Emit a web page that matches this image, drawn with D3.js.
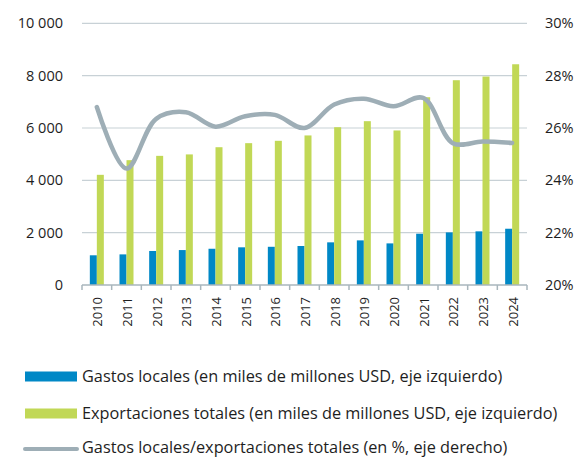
<!DOCTYPE html>
<html>
<head>
<meta charset="utf-8">
<script src="https://cdn.jsdelivr.net/npm/d3@7"></script>
<style>
  body { margin: 0; background: #fff; }
  svg { display: block; font-family: "Open Sans", sans-serif; }
</style>
</head>
<body>
<svg id="chart" width="575" height="457"></svg>
<script>
const years = ["2010","2011","2012","2013","2014","2015","2016","2017","2018","2019","2020","2021","2022","2023","2024"];
const gastos = [1135, 1170, 1300, 1335, 1385, 1440, 1460, 1490, 1630, 1705, 1590, 1960, 2010, 2050, 2150];
const exportaciones = [4210, 4770, 4935, 4990, 5265, 5420, 5510, 5715, 6030, 6260, 5905, 7175, 7825, 7965, 8435];
const ratio = [26.8, 24.45, 26.35, 26.6, 26.05, 26.45, 26.5, 26.0, 26.9, 27.12, 26.83, 27.15, 25.42, 25.48, 25.43];
const leftTicks = [0, 2000, 4000, 6000, 8000, 10000];
const rightTicks = [20, 22, 24, 26, 28, 30];
const legendLabels = [
  "Gastos locales (en miles de millones USD, eje izquierdo)",
  "Exportaciones totales (en miles de millones USD, eje izquierdo)",
  "Gastos locales/exportaciones totales (en %, eje derecho)"
];

const blue = "#0088c6", green = "#c1d856", grey = "#9eaeb6";

const svg = d3.select("#chart");
const plotL = 82, plotR = 527, plotT = 23.3, plotB = 285;

const x = d3.scaleBand().domain(years).range([plotL, plotR]).padding(0);
const bw = x.bandwidth();
const inner = d3.scaleBand().domain(["g", "e"]).range([bw / 2 - 7, bw / 2 + 7]);
const yL = d3.scaleLinear().domain([0, 10000]).range([plotB, plotT]);
const yR = d3.scaleLinear().domain([20, 30]).range([plotB, plotT]);

// gridlines
svg.append("g")
  .selectAll("line")
  .data(leftTicks.slice(1))
  .enter()
  .append("line")
  .attr("x1", plotL).attr("x2", plotR)
  .attr("y1", d => yL(d)).attr("y2", d => yL(d))
  .attr("stroke", "#c8d1d6").attr("stroke-width", 1.2);

// left axis labels
svg.append("g")
  .selectAll("text")
  .data(leftTicks)
  .enter()
  .append("text")
  .attr("x", 63)
  .attr("y", d => yL(d) + 5)
  .attr("text-anchor", "end")
  .attr("font-size", 14.5)
  .attr("fill", "#1e1e1e")
  .text(d => d3.format(",")(d).replace(/,/g, " "));

// right axis labels
svg.append("g")
  .selectAll("text")
  .data(rightTicks)
  .enter()
  .append("text")
  .attr("x", 545)
  .attr("y", d => yR(d) + 5)
  .attr("font-size", 14.5)
  .attr("fill", "#1e1e1e")
  .text(d => d + "%");

// bars
svg.append("g")
  .selectAll("rect")
  .data(years)
  .enter()
  .append("rect")
  .attr("x", d => x(d) + inner("g"))
  .attr("width", inner.bandwidth())
  .attr("y", (d, i) => yL(gastos[i]))
  .attr("height", (d, i) => plotB - yL(gastos[i]))
  .attr("fill", blue);

svg.append("g")
  .selectAll("rect")
  .data(years)
  .enter()
  .append("rect")
  .attr("x", d => x(d) + inner("e"))
  .attr("width", inner.bandwidth())
  .attr("y", (d, i) => yL(exportaciones[i]))
  .attr("height", (d, i) => plotB - yL(exportaciones[i]))
  .attr("fill", green);

// x axis
const xAxis = svg.append("g");
xAxis.append("line")
  .attr("x1", plotL).attr("x2", plotR)
  .attr("y1", plotB).attr("y2", plotB)
  .attr("stroke", "#a9b6bc").attr("stroke-width", 1.5);
xAxis.selectAll(".tick")
  .data(years.concat(["end"]))
  .enter()
  .append("line")
  .attr("class", "tick")
  .attr("x1", (d, i) => plotL + i * bw).attr("x2", (d, i) => plotL + i * bw)
  .attr("y1", plotB).attr("y2", plotB + 5)
  .attr("stroke", "#a9b6bc").attr("stroke-width", 1.5);
xAxis.selectAll("text")
  .data(years)
  .enter()
  .append("text")
  .attr("transform", d => `translate(${x(d) + bw / 2 + 1},297) rotate(-90)`)
  .attr("text-anchor", "end")
  .attr("dy", "0.35em")
  .attr("font-size", 13)
  .attr("fill", "#1e1e1e")
  .text(d => d);

// ratio line
const line = d3.line()
  .x((d, i) => x(years[i]) + bw / 2)
  .y(d => yR(d))
  .curve(d3.curveCatmullRom.alpha(0.5));
svg.append("path")
  .datum(ratio)
  .attr("d", line)
  .attr("fill", "none")
  .attr("stroke", grey)
  .attr("stroke-width", 4.5)
  .attr("stroke-linecap", "round");

// legend
const lg = svg.append("g");
const ly = [376.5, 413.5, 449];
legendLabels.forEach((lab, i) => {
  if (i < 2) {
    lg.append("rect")
      .attr("x", 25).attr("y", ly[i] - 5)
      .attr("width", 52).attr("height", 10)
      .attr("fill", i === 0 ? blue : green);
  } else {
    lg.append("line")
      .attr("x1", 25).attr("x2", 77)
      .attr("y1", ly[i]).attr("y2", ly[i])
      .attr("stroke", grey).attr("stroke-width", 4)
      .attr("stroke-linecap", "round");
  }
  lg.append("text")
    .attr("x", 82)
    .attr("y", ly[i] + (i < 2 ? 5.5 : 3.5))
    .attr("font-size", 16.3)
    .attr("fill", "#1e1e1e")
    .text(lab);
});
</script>
</body>
</html>
